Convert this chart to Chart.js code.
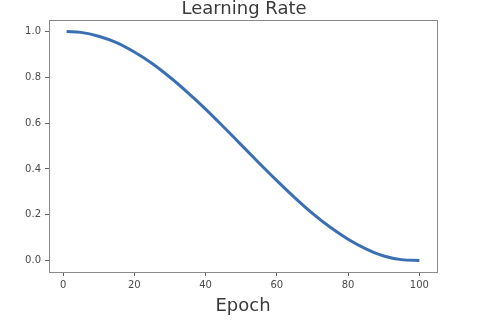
<!DOCTYPE html>
<html>
<head>
<meta charset="utf-8">
<script src="https://cdn.jsdelivr.net/npm/chart.js@4/dist/chart.umd.min.js"></script>
<style>
html,body{margin:0;padding:0;background:#fff;}
#wrap{width:488px;height:322px;}
</style>
</head>
<body>
<div id="wrap"><canvas id="c" width="488" height="322"></canvas></div>
<script>
const epochs = [1, 5, 10, 15, 20, 25, 30, 35, 40, 45, 50, 55, 60, 65, 70, 75, 80, 85, 90, 95, 100];
const learningRate = [1.0, 0.996, 0.979, 0.951, 0.910, 0.860, 0.800, 0.733, 0.661, 0.584, 0.505, 0.426, 0.349, 0.275, 0.206, 0.145, 0.093, 0.051, 0.020, 0.004, 0.0];
const xTicks = [0, 20, 40, 60, 80, 100];
const yTicks = [0.0, 0.2, 0.4, 0.6, 0.8, 1.0];
const titleText = 'Learning Rate';
const xLabel = 'Epoch';

const frame = {
  id: 'frame',
  afterDatasetsDraw(chart) {
    const a = chart.chartArea, ctx = chart.ctx;
    ctx.save();
    ctx.strokeStyle = '#8a8a8a';
    ctx.lineWidth = 1;
    ctx.strokeRect(Math.round(a.left) + 0.5, Math.round(a.top) + 0.5, Math.round(a.right - a.left), Math.round(a.bottom - a.top));
    ctx.restore();
  }
};

const FONT = "'DejaVu Sans', sans-serif";
new Chart(document.getElementById('c'), {
  type: 'line',
  data: {
    datasets: [{
      data: epochs.map((e, i) => ({x: e, y: learningRate[i]})),
      borderColor: '#3b6fb3',
      borderWidth: 3,
      pointRadius: 0,
      cubicInterpolationMode: 'monotone',
      fill: false
    }]
  },
  options: {
    responsive: false,
    animation: false,
    layout: {padding: {left: 0, right: 0, top: 0, bottom: 0}},
    plugins: {
      legend: {display: false},
      tooltip: {enabled: false},
      title: {
        display: true,
        text: titleText,
        color: '#3a3a3a',
        font: {family: FONT, size: 18, weight: 'normal', lineHeight: 0.85},
        padding: {top: 2, bottom: 2.7}
      }
    },
    scales: {
      x: {
        type: 'linear',
        min: -3.95,
        max: 104.95,
        afterBuildTicks: s => { s.ticks = xTicks.map(v => ({value: v})); },
        afterFit: s => { s.height = 50; },
        ticks: {color: '#4a4a4a', font: {family: FONT, size: 10}, padding: 3, maxRotation: 0, callback: v => String(v)},
        grid: {drawOnChartArea: false, drawTicks: true, tickLength: 4, color: '#666'},
        border: {display: false},
        title: {display: true, text: xLabel, color: '#3a3a3a', font: {family: FONT, size: 18, lineHeight: 1}, padding: {top: 0, bottom: 7}}
      },
      y: {
        type: 'linear',
        min: -0.05,
        max: 1.05,
        afterBuildTicks: s => { s.ticks = yTicks.map(v => ({value: v})); },
        afterFit: s => { s.width = 49; },
        ticks: {color: '#4a4a4a', font: {family: FONT, size: 10}, padding: 4, callback: v => v.toFixed(1)},
        grid: {drawOnChartArea: false, drawTicks: true, tickLength: 4, color: '#666'},
        border: {display: false}
      },
      yRight: {
        type: 'linear',
        position: 'right',
        display: true,
        afterFit: s => { s.width = 51; },
        ticks: {display: false},
        grid: {display: false, drawTicks: false},
        border: {display: false}
      }
    }
  },
  plugins: [frame]
});
</script>
</body>
</html>
